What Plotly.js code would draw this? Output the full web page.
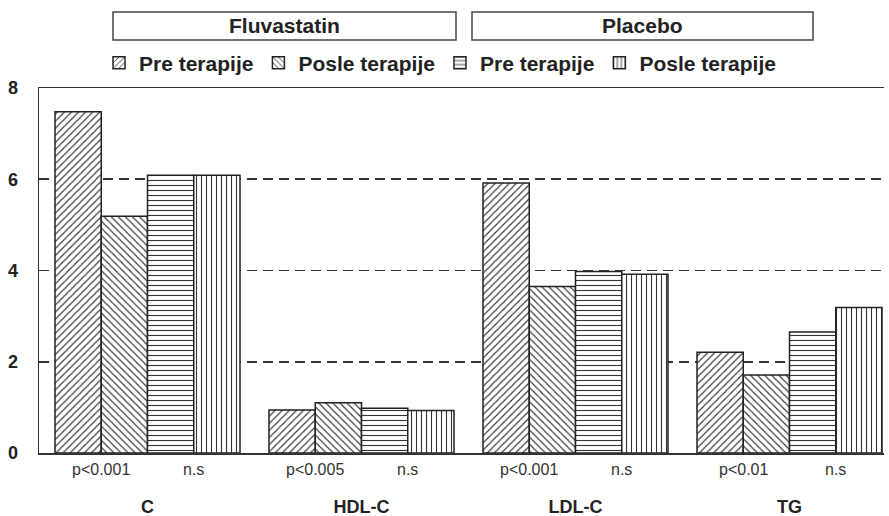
<!DOCTYPE html>
<html>
<head>
<meta charset="utf-8">
<script src="https://cdn.plot.ly/plotly-3.0.1.min.js"></script>
<style>html,body{margin:0;padding:0;background:#fff;}#chart{width:889px;height:516px;}</style>
</head>
<body>
<div id="chart"></div>
<script>
// ---- data ----
const categories = ['C', 'HDL-C', 'LDL-C', 'TG'];
const fluvaPre   = [7.48, 0.94, 5.92, 2.21];
const fluvaPost  = [5.19, 1.10, 3.65, 1.71];
const placeboPre = [6.09, 0.98, 3.98, 2.65];
const placeboPost= [6.09, 0.93, 3.92, 3.19];
const seriesNames = ['Pre terapije', 'Posle terapije', 'Pre terapije', 'Posle terapije'];
const groupNames = ['Fluvastatin', 'Placebo'];
const pLabels = ['p<0.001', 'p<0.005', 'p<0.001', 'p<0.01'];
const nsLabels = ['n.s', 'n.s', 'n.s', 'n.s'];
const yTicks = [0, 2, 4, 6, 8];

// ---- layout constants (pixels) ----
const W = 889, H = 516;
const mL = 39, mR = 5, mT = 88, mB = 63.3;
const pw = W - mL - mR, ph = H - mT - mB;
const bargap = 0.1355;
const barW = (1 - bargap) / 4;
const px2x = p => (p - mL) / pw;
const py2y = p => (H - mB - p) / ph;

const values = [fluvaPre, fluvaPost, placeboPre, placeboPost];
const shapesP = ['/', '\\', '-', '|'];

const traces = values.map((v, i) => ({
  type: 'bar',
  x: categories,
  y: v,
  name: seriesNames[i],
  marker: {
    color: '#ffffff',
    line: {color: '#222', width: 1.5},
    pattern: {shape: shapesP[i], fgcolor: '#333', bgcolor: '#ffffff', size: 5, solidity: 0.22}
  },
  hoverinfo: 'x+y'
}));

const annotations = [];
categories.forEach((c, i) => {
  annotations.push({x: i - barW, y: 0, xref: 'x', yref: 'paper', yshift: -16, text: pLabels[i],
    showarrow: false, font: {family: 'Liberation Sans, Arial, sans-serif', size: 16, color: '#333'}, yanchor: 'middle'});
  annotations.push({x: i + barW, y: 0, xref: 'x', yref: 'paper', yshift: -16, text: nsLabels[i],
    showarrow: false, font: {family: 'Liberation Sans, Arial, sans-serif', size: 16, color: '#333'}, yanchor: 'middle'});
});

const boxes = [[113, 456], [472, 813]];
const shapes = boxes.map(b => ({
  type: 'rect', xref: 'paper', yref: 'paper',
  x0: px2x(b[0]), x1: px2x(b[1]), y0: py2y(40), y1: py2y(12),
  line: {color: '#444', width: 1.5}, fillcolor: 'rgba(0,0,0,0)'
}));
boxes.forEach((b, i) => {
  annotations.push({x: px2x((b[0] + b[1]) / 2), y: py2y(26), xref: 'paper', yref: 'paper',
    text: '<b>' + groupNames[i] + '</b>', showarrow: false, xanchor: 'center', yanchor: 'middle',
    font: {family: 'Liberation Sans, Arial, sans-serif', size: 21, color: '#222'}});
});

const layout = {
  width: W, height: H,
  margin: {l: mL, r: mR, t: mT, b: mB},
  paper_bgcolor: '#fff', plot_bgcolor: '#fff',
  barmode: 'group', bargap: bargap, bargroupgap: 0,
  showlegend: true,
  legend: {
    orientation: 'h', x: px2x(99), xanchor: 'left', y: py2y(63), yanchor: 'middle',
    font: {family: 'Liberation Sans, Arial, sans-serif', size: 21, color: '#222', weight: 'bold'},
    bgcolor: 'rgba(0,0,0,0)', traceorder: 'normal'
  },
  xaxis: {
    type: 'category', range: [-(147.5 - mL) / 214, 3 + (mL + pw - 789.5) / 214],
    showline: true, linecolor: '#333', linewidth: 1.5, mirror: true,
    ticks: '', showgrid: false, zeroline: false,
    tickfont: {family: 'Liberation Sans, Arial, sans-serif', size: 18, color: '#222', weight: 'bold'},
    ticklabelstandoff: 37
  },
  yaxis: {
    range: [0, 8], tickvals: yTicks, ticktext: yTicks.map(String),
    showline: true, linecolor: '#333', linewidth: 1.5,
    showgrid: true, gridcolor: '#333', gridwidth: 1.6, griddash: '10px,6px',
    zeroline: false, ticks: '',
    tickfont: {family: 'Liberation Sans, Arial, sans-serif', size: 18, color: '#222', weight: 'bold'},
    ticklabelstandoff: 16
  },
  shapes: shapes,
  annotations: annotations
};

Plotly.newPlot('chart', traces, layout, {displayModeBar: false, staticPlot: true});
</script>
</body>
</html>
